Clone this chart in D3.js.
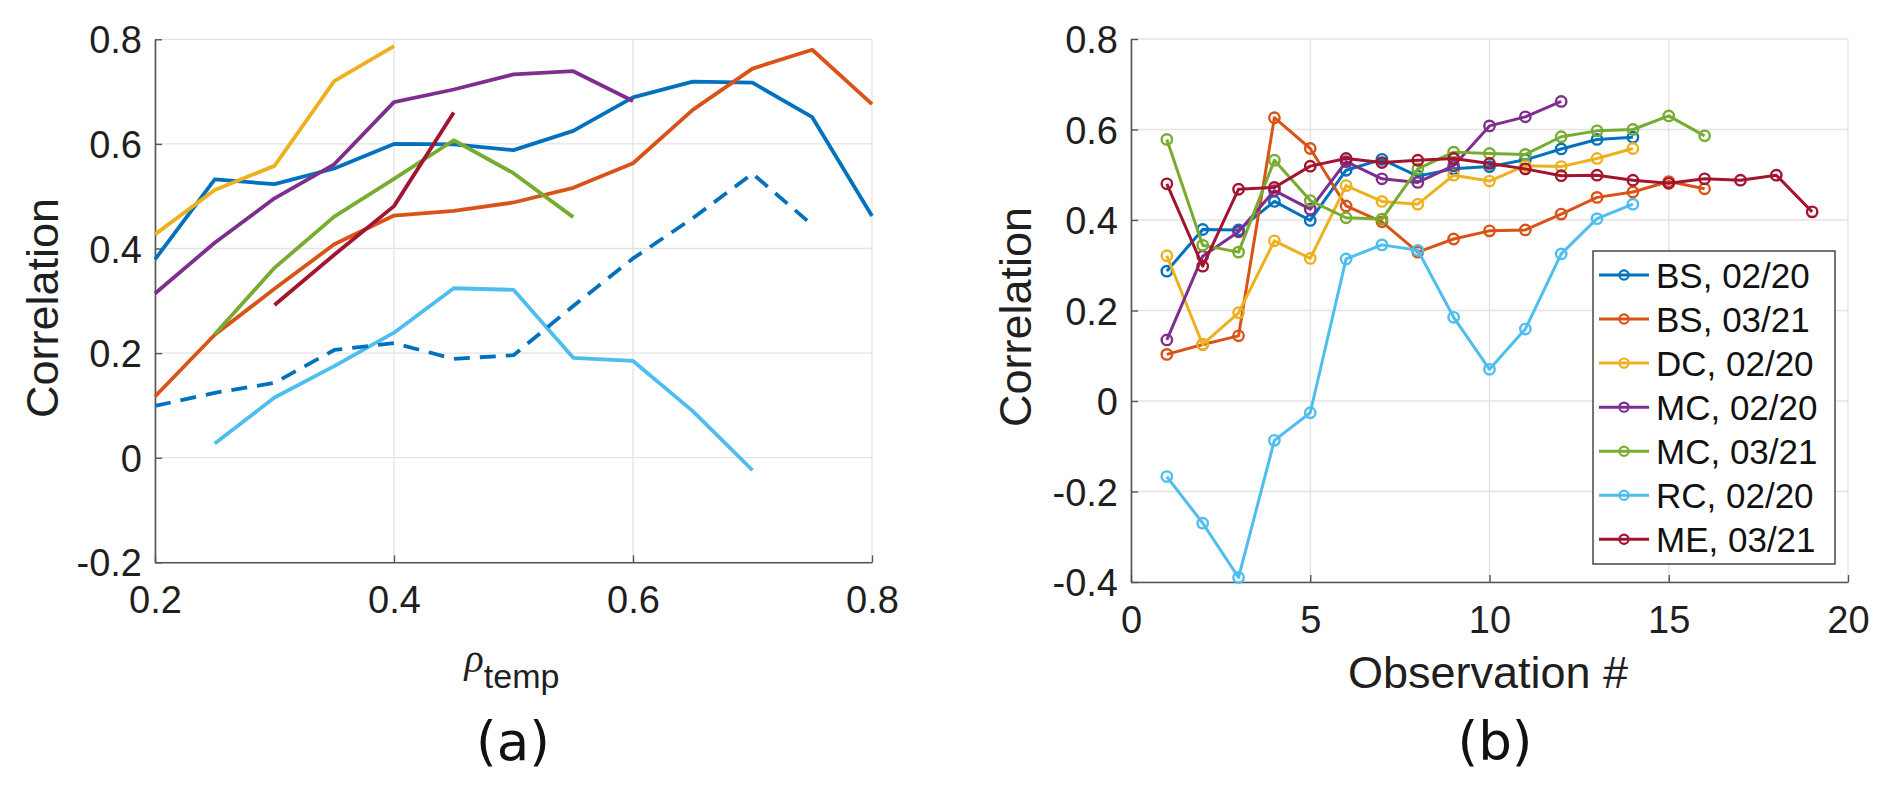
<!DOCTYPE html>
<html>
<head>
<meta charset="utf-8">
<script src="https://cdn.jsdelivr.net/npm/d3@7"></script>
<style>
  html, body { margin: 0; padding: 0; background: #fff; }
  svg { display: block; }
</style>
</head>
<body>
<svg id="chart" width="1892" height="792"></svg>
<script>
// ---------------- DATA ----------------
// Panel (a): correlation vs rho_temp
const rhoTemp = [0.2, 0.25, 0.3, 0.35, 0.4, 0.45, 0.5, 0.55, 0.6, 0.65, 0.7, 0.75, 0.8];
const aBlue      = [0.379, 0.532, 0.523, 0.553, 0.600, 0.599, 0.588, 0.625, 0.689, 0.719, 0.717, 0.651, 0.462];
const aOrange    = [0.117, 0.235, 0.323, 0.408, 0.463, 0.472, 0.488, 0.516, 0.563, 0.665, 0.744, 0.780, 0.676];
const aYellow    = [0.427, 0.512, 0.558, 0.720, 0.787, null, null, null, null, null, null, null, null];
const aPurple    = [0.314, 0.411, 0.496, 0.561, 0.680, 0.704, 0.733, 0.739, 0.682, null, null, null, null];
const aGreen     = [null, 0.236, 0.363, 0.461, 0.533, 0.607, 0.544, 0.460, null, null, null, null, null];
const aLightBlue = [null, 0.027, 0.115, 0.175, 0.239, 0.324, 0.321, 0.191, 0.185, 0.089, -0.024, null, null];
const aDarkRed   = [null, null, 0.292, 0.388, 0.481, 0.660, null, null, null, null, null, null, null];
const aDashed    = [0.099, 0.124, 0.143, 0.206, 0.219, 0.189, 0.196, 0.290, 0.381, 0.458, 0.543, 0.445, null];

// Panel (b): correlation vs observation number
const bsFeb20 = [0.287, 0.379, 0.378, 0.441, 0.399, 0.510, 0.534, 0.497, 0.513, 0.518, 0.533, 0.557, 0.578, 0.583];
const bsMar21 = [0.103, 0.125, 0.144, 0.626, 0.558, 0.431, 0.396, 0.329, 0.358, 0.376, 0.378, 0.413, 0.450, 0.462, 0.485, 0.469];
const dcFeb20 = [0.321, 0.125, 0.195, 0.354, 0.315, 0.476, 0.441, 0.435, 0.499, 0.486, 0.520, 0.518, 0.536, 0.558];
const mcFeb20 = [0.135, 0.320, 0.374, 0.465, 0.424, 0.529, 0.491, 0.483, 0.520, 0.608, 0.628, 0.662];
const mcMar21 = [0.578, 0.344, 0.329, 0.532, 0.443, 0.405, 0.402, 0.513, 0.550, 0.547, 0.545, 0.584, 0.597, 0.600, 0.630, 0.586];
const rcFeb20 = [-0.167, -0.270, -0.390, -0.087, -0.026, 0.314, 0.345, 0.333, 0.185, 0.070, 0.159, 0.325, 0.403, 0.435];
const meMar21 = [0.480, 0.298, 0.468, 0.472, 0.519, 0.536, 0.527, 0.532, 0.536, 0.525, 0.513, 0.498, 0.499, 0.488, 0.481, 0.491, 0.488, 0.499, 0.418];

const legendLabels = ["BS, 02/20", "BS, 03/21", "DC, 02/20", "MC, 02/20", "MC, 03/21", "RC, 02/20", "ME, 03/21"];
const colors = ["#0072BD", "#D95319", "#EDB120", "#7E2F8E", "#77AC30", "#4DBEEE", "#A2142F"];

const aYTicks = [-0.2, 0, 0.2, 0.4, 0.6, 0.8];
const aXTicks = [0.2, 0.4, 0.6, 0.8];
const bYTicks = [-0.4, -0.2, 0, 0.2, 0.4, 0.6, 0.8];
const bXTicks = [0, 5, 10, 15, 20];

// ---------------- DRAW ----------------
const svg = d3.select("#chart");
svg.append("rect").attr("width", 1892).attr("height", 792).attr("fill", "#fff");

const FONT = "'Liberation Sans', Arial, Helvetica, sans-serif";
const TXT = "#1f1f1f";
const AXC = "#555";
const GRID = "#e3e3e3";
const fmt = d => String(+d.toFixed(1));

function panel(opts) {
  const g = svg.append("g");
  const x = d3.scaleLinear().domain(opts.xDomain).range(opts.xRange);
  const y = d3.scaleLinear().domain(opts.yDomain).range(opts.yRange);

  // grid
  g.append("g").selectAll("line").data(opts.yTicks).join("line")
    .attr("x1", opts.xRange[0]).attr("x2", opts.xRange[1])
    .attr("y1", d => y(d)).attr("y2", d => y(d))
    .attr("stroke", GRID).attr("stroke-width", 1.3);
  g.append("g").selectAll("line").data(opts.xTicks).join("line")
    .attr("x1", d => x(d)).attr("x2", d => x(d))
    .attr("y1", opts.yRange[0]).attr("y2", opts.yRange[1])
    .attr("stroke", GRID).attr("stroke-width", 1.3);

  // axes
  const xAxis = d3.axisBottom(x).tickValues(opts.xTicks).tickFormat(opts.xFmt || fmt)
    .tickSizeInner(-7).tickSizeOuter(0).tickPadding(24);
  const yAxis = d3.axisLeft(y).tickValues(opts.yTicks).tickFormat(fmt)
    .tickSizeInner(-7).tickSizeOuter(0).tickPadding(13);
  const gx = g.append("g").attr("transform", `translate(0,${opts.yRange[0]})`).call(xAxis);
  const gy = g.append("g").attr("transform", `translate(${opts.xRange[0]},0)`).call(yAxis);
  [gx, gy].forEach(a => {
    a.select(".domain").attr("stroke", AXC).attr("stroke-width", 1.6);
    a.selectAll(".tick line").attr("stroke", AXC).attr("stroke-width", 1.4);
    a.selectAll(".tick text").attr("fill", TXT).attr("font-family", FONT).attr("font-size", 38);
  });
  gy.selectAll(".tick text").attr("dy", "0.36em");

  // y label
  g.append("text")
    .attr("transform", `translate(${opts.yLabelX},${opts.yLabelY}) rotate(-90)`)
    .attr("text-anchor", "middle").attr("dy", "0.36em")
    .attr("font-family", FONT).attr("font-size", 45).attr("fill", TXT)
    .text("Correlation");

  // panel tag
  g.append("text")
    .attr("x", opts.tagX).attr("y", 760)
    .attr("text-anchor", "middle")
    .attr("font-family", "'DejaVu Sans', Verdana, sans-serif").attr("font-size", 53).attr("fill", "#111")
    .text(opts.tag);

  return { g, x, y };
}

// ---- Panel (a)
const A = panel({
  xDomain: [0.2, 0.8], xRange: [155, 872],
  yDomain: [-0.2, 0.8], yRange: [562.3, 39.3],
  xTicks: aXTicks, yTicks: aYTicks,
  yLabelX: 42, yLabelY: 308, tagX: 513, tag: "(a)"
});

const aSeries = [
  { v: aBlue, c: colors[0] },
  { v: aOrange, c: colors[1] },
  { v: aYellow, c: colors[2] },
  { v: aPurple, c: colors[3] },
  { v: aGreen, c: colors[4] },
  { v: aLightBlue, c: colors[5] },
  { v: aDarkRed, c: colors[6] },
  { v: aDashed, c: colors[0], dash: "16,10" }
];
const lineA = d3.line()
  .defined(d => d[1] !== null)
  .x(d => A.x(d[0])).y(d => A.y(d[1]));
aSeries.forEach(s => {
  A.g.append("path")
    .datum(rhoTemp.map((r, i) => [r, s.v[i]]))
    .attr("d", lineA)
    .attr("fill", "none").attr("stroke", s.c).attr("stroke-width", 3.8)
    .attr("stroke-linejoin", "round")
    .attr("stroke-dasharray", s.dash || null);
});

// x label rho_temp
const xl = A.g.append("text").attr("x", 512).attr("y", 672).attr("text-anchor", "middle").attr("fill", TXT);
xl.append("tspan").attr("font-family", "'Liberation Serif', 'DejaVu Serif', serif").attr("font-style", "italic")
  .attr("font-size", 40).text("ρ");
xl.append("tspan").attr("font-family", FONT).attr("font-size", 34).attr("dy", 16).text("temp");

// ---- Panel (b)
const B = panel({
  xDomain: [0, 20], xRange: [1131, 1848],
  yDomain: [-0.4, 0.8], yRange: [582, 39],
  xTicks: bXTicks, yTicks: bYTicks, xFmt: d => String(d),
  yLabelX: 1015, yLabelY: 317, tagX: 1495, tag: "(b)"
});

B.g.append("text").attr("x", 1488).attr("y", 672).attr("dy", "0.36em")
  .attr("text-anchor", "middle").attr("font-family", FONT).attr("font-size", 45).attr("fill", TXT)
  .text("Observation #");

const bSeries = [bsFeb20, bsMar21, dcFeb20, mcFeb20, mcMar21, rcFeb20, meMar21];
const lineB = d3.line().x(d => B.x(d[0])).y(d => B.y(d[1]));
bSeries.forEach((vals, k) => {
  const pts = vals.map((v, i) => [i + 1, v]);
  const sg = B.g.append("g");
  sg.append("path").datum(pts).attr("d", lineB)
    .attr("fill", "none").attr("stroke", colors[k]).attr("stroke-width", 3)
    .attr("stroke-linejoin", "round");
  sg.selectAll("circle").data(pts).join("circle")
    .attr("cx", d => B.x(d[0])).attr("cy", d => B.y(d[1])).attr("r", 5.2)
    .attr("fill", "none").attr("stroke", colors[k]).attr("stroke-width", 2.4);
});

// legend
const lg = B.g.append("g");
lg.append("rect").attr("x", 1593).attr("y", 251).attr("width", 242).attr("height", 313)
  .attr("fill", "#fff").attr("stroke", "#3a3a3a").attr("stroke-width", 1.4);
const legY = d3.scaleLinear().domain([0, 6]).range([275, 539.3]);
legendLabels.forEach((lab, k) => {
  const yy = legY(k);
  lg.append("line").attr("x1", 1599).attr("x2", 1649).attr("y1", yy).attr("y2", yy)
    .attr("stroke", colors[k]).attr("stroke-width", 3);
  lg.append("circle").attr("cx", 1624).attr("cy", yy).attr("r", 4.6)
    .attr("fill", "none").attr("stroke", colors[k]).attr("stroke-width", 2.2);
  lg.append("text").attr("x", 1656).attr("y", yy).attr("dy", "0.36em")
    .attr("font-family", FONT).attr("font-size", 35).attr("fill", "#111").text(lab);
});
</script>
</body>
</html>
